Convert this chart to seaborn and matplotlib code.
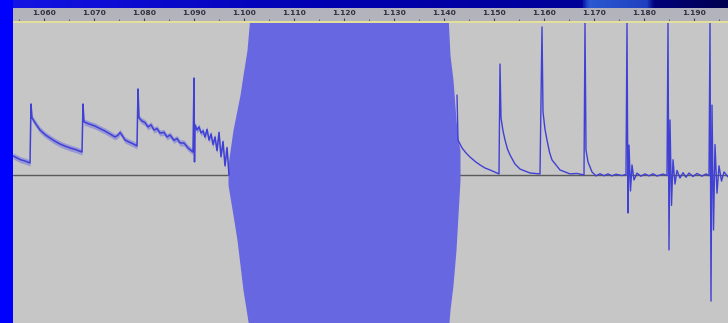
import matplotlib.pyplot as plt
import matplotlib.colors as mcolors
import seaborn as sns
import pandas as pd
import numpy as np

# ruler ticks (seconds)
major_ticks = [1.060, 1.070, 1.080, 1.090, 1.100, 1.110, 1.120, 1.130, 1.140,
               1.150, 1.160, 1.170, 1.180, 1.190]
minor_ticks = [1.055, 1.065, 1.075, 1.085, 1.095, 1.105, 1.115, 1.125, 1.135,
               1.145, 1.155, 1.165, 1.175, 1.185, 1.195]

# waveform before the burst (time, amplitude)
pre_time = [1.0538, 1.0546, 1.0554, 1.0562, 1.0572, 1.0574, 1.0576, 1.0584, 1.0592,
            1.0602, 1.0612, 1.0622, 1.0632, 1.0642, 1.0652, 1.0664, 1.0676,
            1.0678, 1.0680, 1.0690, 1.0702, 1.0712, 1.0722, 1.0732, 1.0742, 1.0748,
            1.0752, 1.0756, 1.0762, 1.0770, 1.0778, 1.0786,
            1.0788, 1.0790, 1.0796, 1.0802, 1.0808, 1.0814, 1.0820, 1.0826, 1.0832,
            1.0840, 1.0846, 1.0852, 1.0860, 1.0866, 1.0872, 1.0880, 1.0888, 1.0898,
            1.0900, 1.0901, 1.0902, 1.0906, 1.0910, 1.0914, 1.0918, 1.0922, 1.0926,
            1.0930, 1.0934, 1.0938, 1.0942, 1.0946, 1.0950, 1.0954, 1.0958, 1.0962,
            1.0966, 1.0970]
pre_amp = [0.125, 0.112, 0.099, 0.092, 0.079, 0.467, 0.375, 0.334, 0.296,
           0.266, 0.243, 0.222, 0.204, 0.190, 0.178, 0.166, 0.151,
           0.467, 0.349, 0.336, 0.322, 0.305, 0.289, 0.270, 0.250, 0.262,
           0.280, 0.262, 0.230, 0.217, 0.205, 0.191,
           0.566, 0.375, 0.355, 0.345, 0.316, 0.330, 0.296, 0.305, 0.276,
           0.280, 0.250, 0.263, 0.228, 0.240, 0.211, 0.210, 0.178, 0.151,
           0.638, 0.086, 0.329, 0.296, 0.316, 0.276, 0.290, 0.250, 0.300,
           0.230, 0.270, 0.200, 0.250, 0.160, 0.280, 0.120, 0.220, 0.060,
           0.180, 0.000]

# burst envelope
burst_time = [1.0968, 1.0978, 1.0986, 1.0992, 1.0998, 1.1006, 1.1012,
              1.1408, 1.1412, 1.1418, 1.1424, 1.1428, 1.1432]
burst_top = [0.066, 0.296, 0.428, 0.526, 0.658, 0.822, 1.05,
             1.05, 0.789, 0.625, 0.362, 0.230, 0.164]
burst_bottom = [-0.066, -0.263, -0.428, -0.592, -0.757, -0.921, -1.05,
                -1.05, -0.888, -0.724, -0.493, -0.263, -0.033]

# waveform after the burst
post_time = [1.1426, 1.1428, 1.1436, 1.1444, 1.1452, 1.1462, 1.1472, 1.1482, 1.1492, 1.1510,
             1.1512, 1.1514, 1.1518, 1.1522, 1.1527, 1.1532, 1.1542, 1.1552, 1.1572, 1.1592,
             1.1596, 1.1598, 1.1602, 1.1606, 1.1611, 1.1616, 1.1632, 1.1652, 1.1666, 1.1680,
             1.1682, 1.1684, 1.1688, 1.1696, 1.1704, 1.1712, 1.1720, 1.1728, 1.1736, 1.1744, 1.1756, 1.1764,
             1.1766, 1.1768, 1.1770, 1.1773, 1.1776, 1.1780, 1.1786, 1.1794, 1.1802, 1.1810, 1.1818, 1.1826, 1.1838, 1.1846,
             1.1848, 1.1850, 1.1852, 1.1855, 1.1858, 1.1862, 1.1866, 1.1872, 1.1878, 1.1884, 1.1890, 1.1898, 1.1906, 1.1916, 1.1924, 1.1930,
             1.1932, 1.1934, 1.1936, 1.1939, 1.1942, 1.1946, 1.1950, 1.1955, 1.1960, 1.1968]
post_amp = [0.526, 0.230, 0.178, 0.145, 0.118, 0.090, 0.066, 0.046, 0.033, 0.007,
            0.730, 0.375, 0.290, 0.230, 0.170, 0.132, 0.072, 0.039, 0.013, 0.007,
            0.974, 0.414, 0.300, 0.230, 0.150, 0.099, 0.033, 0.007, 0.010, 0.000,
            1.00, 0.164, 0.086, 0.020, -0.006, 0.008, -0.005, 0.007, -0.006, 0.005, -0.004, 0.004,
            1.00, -0.250, 0.197, -0.105, 0.066, -0.033, 0.012, -0.008, 0.007, -0.006, 0.008, -0.007, 0.006, -0.004,
            1.00, -0.493, 0.362, -0.200, 0.100, -0.060, 0.030, -0.020, 0.015, -0.015, 0.013, -0.010, 0.010, -0.008, 0.007, -0.005,
            1.00, -0.830, 0.460, -0.362, 0.200, -0.120, 0.060, -0.040, 0.020, -0.013]

pre = pd.DataFrame({'time': pre_time, 'amp': pre_amp})
post = pd.DataFrame({'time': post_time, 'amp': post_amp})
burst = pd.DataFrame({'time': burst_time, 'top': burst_top, 'bottom': burst_bottom})

sns.set_style('white')
plt.rcParams['font.family'] = ['DejaVu Sans']

W, H = 728, 323
fig = plt.figure(figsize=(W / 100, H / 100), dpi=100)
fig.patch.set_facecolor('#c6c6c6')

xmin = 1.06 - 31 / 5000
xmax = 1.06 + 684 / 5000

# top blue title band
band = fig.add_axes([0, (H - 8) / H, 1, 8 / H])
cmap = mcolors.LinearSegmentedColormap.from_list(
    'bar', [(0.0, '#1414e6'), (0.45, '#0000b0'), (0.80, '#000098'), (0.81, '#2a5ad2'),
            (0.89, '#2040c0'), (0.90, '#00007a'), (1.0, '#000050')])
band.imshow(np.linspace(0, 1, 256)[None, :], aspect='auto', cmap=cmap, extent=[0, 1, 0, 1])
band.set_xlim(0, 1)
band.set_ylim(0, 1)
band.axis('off')

# left blue strip
strip = fig.add_axes([0, 0, 13 / W, 1])
strip.set_facecolor('#0000ff')
strip.set_xticks([])
strip.set_yticks([])
for s in strip.spines.values():
    s.set_visible(False)

# ruler
ruler = fig.add_axes([13 / W, (H - 21) / H, (W - 13) / W, 13 / H])
ruler.set_facecolor('#b3b3bb')
ruler.set_xlim(xmin, xmax)
ruler.set_ylim(0, 1)
ruler.set_xticks([])
ruler.set_yticks([])
for s in ruler.spines.values():
    s.set_visible(False)
for t in major_ticks:
    ruler.text(t, 0.62, f'{t:.3f}', ha='center', va='center', fontsize=5.4,
               fontweight='bold', color='#303040')
ruler.vlines(major_ticks, 0.0, 0.22, color='#404050', lw=0.8)
ruler.vlines(minor_ticks, 0.0, 0.12, color='#505060', lw=0.6)

# yellow separator
sep = fig.add_axes([13 / W, (H - 23) / H, (W - 13) / W, 2 / H])
sep.set_facecolor('#e2e09a')
sep.set_xticks([])
sep.set_yticks([])
for s in sep.spines.values():
    s.set_visible(False)

# waveform track
ax = fig.add_axes([13 / W, 0, (W - 13) / W, 300 / H])
ax.set_facecolor('#c6c6c6')
ax.axhline(0, color='#5a5a5a', lw=1.0, zorder=1)
ax.fill_between(burst['time'], burst['bottom'], burst['top'], color='#6767e2', lw=0, zorder=2)
ax.fill_between(pre['time'], pre['amp'] - 0.02, pre['amp'] + 0.02, color='#7a7ae0', lw=0, alpha=0.6, zorder=2)
sns.lineplot(data=pre, x='time', y='amp', ax=ax, color='#4040d4', lw=1.1, sort=False, zorder=3)
sns.lineplot(data=post, x='time', y='amp', ax=ax, color='#4040d4', lw=1.0, sort=False, zorder=3)
ax.set_xlim(xmin, xmax)
ax.set_ylim(-0.974, 1.0)
ax.set_xlabel('')
ax.set_ylabel('')
ax.set_xticks([])
ax.set_yticks([])
for s in ax.spines.values():
    s.set_visible(False)

fig.savefig('out.png', dpi=100)
